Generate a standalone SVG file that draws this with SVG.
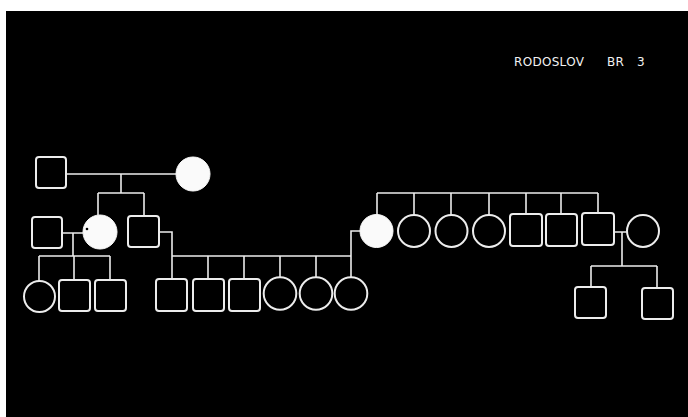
<svg xmlns="http://www.w3.org/2000/svg" width="688" height="417" viewBox="0 0 688 417">
<style>
.bg{fill:#000}
.m{fill:none;stroke:#ececec;stroke-width:2}
.f{fill:#fafafa;stroke:#fafafa;stroke-width:1}
.c{fill:none;stroke:#ececec;stroke-width:1.6}
.t{font-family:"DejaVu Sans","Liberation Sans",sans-serif;font-size:12px;fill:#f2f2f2;letter-spacing:0.3px}
</style>
<rect width="688" height="417" fill="#fff"/>
<rect class="bg" x="6" y="11" width="682" height="406"/>
<text class="t" y="66"><tspan x="514">RODOSLOV</tspan><tspan x="607">BR</tspan><tspan x="637">3</tspan></text>
<g id="connectors" class="c">
<path d="M66 174H176M121 174V193M98 193H144M98 193V215M144 193V216"/>
<path d="M62 233H83M73 233V256M39 256H110M39 256V281M74 256V280M110 256V280"/>
<path d="M159 232H172V256M172 256H351M172 256V279M208 256V279M244 256V279M280 256V277M316 256V277M351 256V277M351 256V231H360"/>
<path d="M377 193H598M377 193V215M414 193V215M451 193V215M489 193V215M526 193V214M561 193V214M598 193V214"/>
<path d="M614 232H627M622 232V266M591 266H657M591 266V287M657 266V288"/>
</g>
<g id="n1"><rect class="m" x="36" y="157" width="30" height="31" rx="3"/></g>
<g id="n2"><circle class="f" cx="193" cy="174" r="17"/></g>
<g id="n3"><rect class="m" x="32" y="217" width="30" height="31" rx="3"/></g>
<g id="n4"><circle class="f" cx="100" cy="232" r="17"/><circle cx="87" cy="229" r="1.3" fill="#000"/></g>
<g id="n5"><rect class="m" x="128" y="216" width="31" height="31" rx="3"/></g>
<g id="n6"><circle class="m" cx="39.5" cy="296.5" r="15.5"/></g>
<g id="n7"><rect class="m" x="59" y="280" width="31" height="31" rx="3"/></g>
<g id="n8"><rect class="m" x="95" y="280" width="31" height="31" rx="3"/></g>
<g id="n9"><rect class="m" x="156" y="279" width="31" height="32" rx="3"/></g>
<g id="n10"><rect class="m" x="193" y="279" width="31" height="32" rx="3"/></g>
<g id="n11"><rect class="m" x="229" y="279" width="31" height="32" rx="3"/></g>
<g id="n12"><circle class="m" cx="280" cy="293.5" r="16.3"/></g>
<g id="n13"><circle class="m" cx="316" cy="293.5" r="16.3"/></g>
<g id="n14"><circle class="m" cx="351" cy="293.5" r="16.3"/></g>
<g id="n15"><circle class="f" cx="376.5" cy="231" r="16.5"/></g>
<g id="n16"><circle class="m" cx="414" cy="231" r="16"/></g>
<g id="n17"><circle class="m" cx="451.5" cy="231" r="16"/></g>
<g id="n18"><circle class="m" cx="489" cy="231" r="16"/></g>
<g id="n19"><rect class="m" x="510" y="214" width="32" height="32" rx="3"/></g>
<g id="n20"><rect class="m" x="546" y="214" width="31" height="32" rx="3"/></g>
<g id="n21"><rect class="m" x="582" y="213" width="32" height="32" rx="3"/></g>
<g id="n22"><circle class="m" cx="643" cy="231" r="16"/></g>
<g id="n23"><rect class="m" x="575" y="287" width="31" height="31" rx="3"/></g>
<g id="n24"><rect class="m" x="642" y="288" width="31" height="31" rx="3"/></g>
</svg>
